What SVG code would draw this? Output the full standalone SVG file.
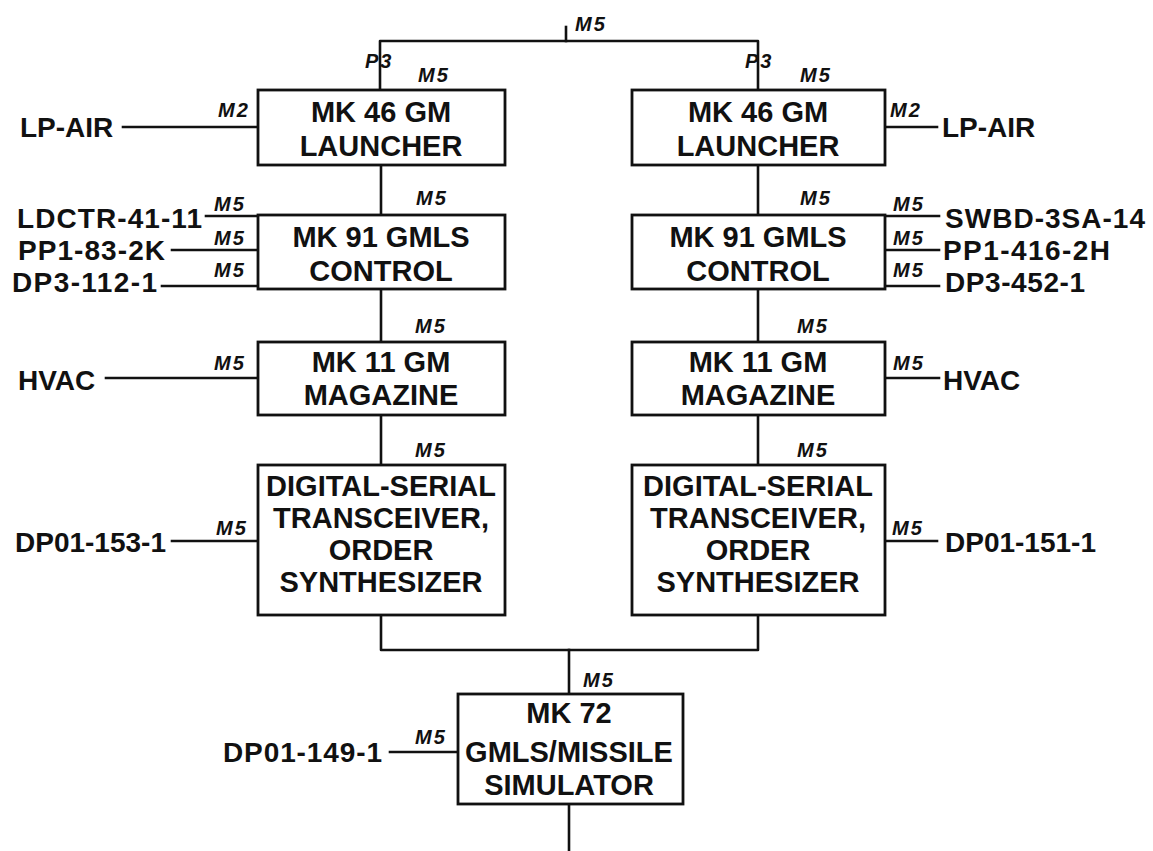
<svg xmlns="http://www.w3.org/2000/svg" width="1153" height="851" viewBox="0 0 1153 851">
<style>
.bg{fill:#fff}
.box{fill:#fff;stroke:#111;stroke-width:2.8}
.ln{fill:none;stroke:#111;stroke-width:2.6;stroke-linecap:square;stroke-linejoin:round}
.t{font-family:"Liberation Sans",Arial,sans-serif;font-weight:bold;font-size:29px;fill:#111;text-anchor:middle}
.lbl{font-family:"Liberation Sans",Arial,sans-serif;font-weight:bold;font-size:28px;fill:#111}
.m{font-family:"Liberation Sans",Arial,sans-serif;font-weight:bold;font-style:italic;font-size:20px;fill:#111;letter-spacing:2px}
</style>
<rect class="bg" x="0" y="0" width="1153" height="851"/>

<g id="connectors">
  <path class="ln" d="M380,90 V41 H758 V90"/>
  <path class="ln" d="M566,41 V27"/>
  <path class="ln" d="M381,165 V215 M381,289 V342 M381,415 V465"/>
  <path class="ln" d="M758,165 V215 M758,289 V342 M758,415 V465"/>
  <path class="ln" d="M381,615 V650 H758 V615"/>
  <path class="ln" d="M569,650 V694"/>
  <path class="ln" d="M569,804 V851"/>
  <path class="ln" d="M123,127 H258 M206,216 H258 M172,250 H258 M162,286 H258 M106,378 H258 M172,541 H258 M390,752 H458"/>
  <path class="ln" d="M885,127 H937 M885,216 H939 M885,250 H939 M885,286 H939 M885,378 H939 M885,541 H937"/>
  <text class="m" x="575" y="31">M5</text>
  <text class="m" x="365" y="68">P3</text>
  <text class="m" x="745" y="68">P3</text>
  <text class="m" x="418" y="82">M5</text>
  <text class="m" x="800" y="82">M5</text>
  <text class="m" x="218" y="117">M2</text>
  <text class="m" x="890" y="117">M2</text>
  <text class="m" x="416" y="205">M5</text>
  <text class="m" x="800" y="205">M5</text>
  <text class="m" x="214" y="211">M5</text>
  <text class="m" x="214" y="245">M5</text>
  <text class="m" x="214" y="277">M5</text>
  <text class="m" x="893" y="211">M5</text>
  <text class="m" x="893" y="245">M5</text>
  <text class="m" x="893" y="277">M5</text>
  <text class="m" x="415" y="333">M5</text>
  <text class="m" x="797" y="333">M5</text>
  <text class="m" x="214" y="370">M5</text>
  <text class="m" x="893" y="370">M5</text>
  <text class="m" x="415" y="457">M5</text>
  <text class="m" x="797" y="457">M5</text>
  <text class="m" x="216" y="535">M5</text>
  <text class="m" x="892" y="535">M5</text>
  <text class="m" x="583" y="687">M5</text>
  <text class="m" x="415" y="744">M5</text>
</g>

<g id="launcher-left">
  <rect class="box" x="258" y="90" width="247" height="75"/>
  <text class="t" x="381" y="122">MK 46 GM</text>
  <text class="t" x="381" y="156">LAUNCHER</text>
</g>
<g id="launcher-right">
  <rect class="box" x="632" y="90" width="253" height="75"/>
  <text class="t" x="758" y="122">MK 46 GM</text>
  <text class="t" x="758" y="156">LAUNCHER</text>
</g>
<g id="control-left">
  <rect class="box" x="258" y="215" width="247" height="74"/>
  <text class="t" x="381" y="247">MK 91 GMLS</text>
  <text class="t" x="381" y="281">CONTROL</text>
</g>
<g id="control-right">
  <rect class="box" x="632" y="215" width="253" height="74"/>
  <text class="t" x="758" y="247">MK 91 GMLS</text>
  <text class="t" x="758" y="281">CONTROL</text>
</g>
<g id="magazine-left">
  <rect class="box" x="258" y="342" width="247" height="73"/>
  <text class="t" x="381" y="372">MK 11 GM</text>
  <text class="t" x="381" y="405">MAGAZINE</text>
</g>
<g id="magazine-right">
  <rect class="box" x="632" y="342" width="253" height="73"/>
  <text class="t" x="758" y="372">MK 11 GM</text>
  <text class="t" x="758" y="405">MAGAZINE</text>
</g>
<g id="dst-left">
  <rect class="box" x="258" y="465" width="247" height="150"/>
  <text class="t" x="381" y="496">DIGITAL-SERIAL</text>
  <text class="t" x="381" y="528">TRANSCEIVER,</text>
  <text class="t" x="381" y="560">ORDER</text>
  <text class="t" x="381" y="592">SYNTHESIZER</text>
</g>
<g id="dst-right">
  <rect class="box" x="632" y="465" width="253" height="150"/>
  <text class="t" x="758" y="496">DIGITAL-SERIAL</text>
  <text class="t" x="758" y="528">TRANSCEIVER,</text>
  <text class="t" x="758" y="560">ORDER</text>
  <text class="t" x="758" y="592">SYNTHESIZER</text>
</g>
<g id="simulator">
  <rect class="box" x="458" y="694" width="225" height="110"/>
  <text class="t" x="569" y="723">MK 72</text>
  <text class="t" x="569" y="762">GMLS/MISSILE</text>
  <text class="t" x="569" y="795">SIMULATOR</text>
</g>

<g id="src-lpair-left"><text class="lbl" x="20" y="137">LP-AIR</text></g>
<g id="src-ldctr"><text class="lbl" x="17" y="228" textLength="185">LDCTR-41-11</text></g>
<g id="src-pp1-83"><text class="lbl" x="18" y="260" textLength="147">PP1-83-2K</text></g>
<g id="src-dp3-112"><text class="lbl" x="12" y="292" textLength="145">DP3-112-1</text></g>
<g id="src-hvac-left"><text class="lbl" x="18" y="390">HVAC</text></g>
<g id="src-dp01-153"><text class="lbl" x="15" y="552">DP01-153-1</text></g>
<g id="src-dp01-149"><text class="lbl" x="223" y="762" textLength="159">DP01-149-1</text></g>

<g id="src-lpair-right"><text class="lbl" x="942" y="137">LP-AIR</text></g>
<g id="src-swbd"><text class="lbl" x="945" y="228" textLength="200">SWBD-3SA-14</text></g>
<g id="src-pp1-416"><text class="lbl" x="943" y="260" textLength="167">PP1-416-2H</text></g>
<g id="src-dp3-452"><text class="lbl" x="945" y="292" textLength="140">DP3-452-1</text></g>
<g id="src-hvac-right"><text class="lbl" x="943" y="390">HVAC</text></g>
<g id="src-dp01-151"><text class="lbl" x="945" y="552">DP01-151-1</text></g>
</svg>
